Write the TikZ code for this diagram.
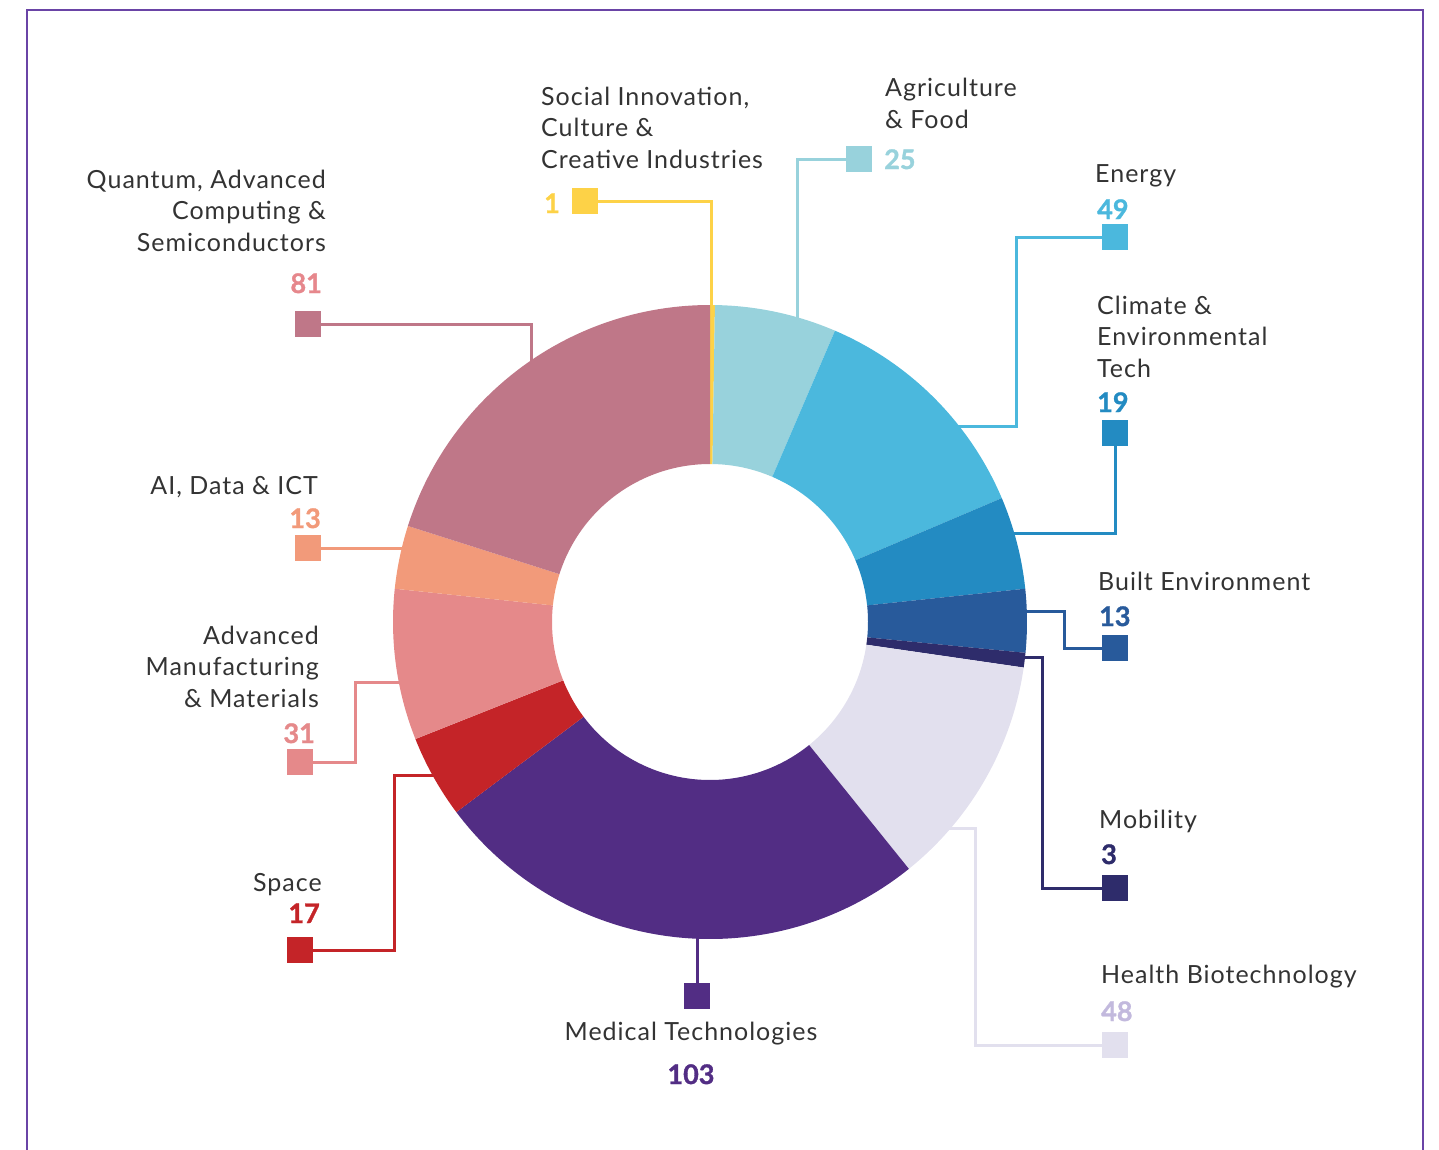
\documentclass[tikz,border=0pt]{standalone}
\usepackage{fontspec}
\setmainfont{Lato}
\newfontfamily\labelfont{Lato}[LetterSpace=4]
\newfontfamily\numfont{Lato}[BoldFeatures={FakeBold=1.2}]
\definecolor{socyellow}{HTML}{FDD247}
\definecolor{agrteal}{HTML}{98D2DC}
\definecolor{eneblue}{HTML}{4BB8DD}
\definecolor{cliblue}{HTML}{238BC2}
\definecolor{bltblue}{HTML}{285A9B}
\definecolor{mobnavy}{HTML}{2E2C6B}
\definecolor{hltlav}{HTML}{E2E0EE}
\definecolor{hltnum}{HTML}{C2B9DD}
\definecolor{medpurple}{HTML}{522D84}
\definecolor{spcred}{HTML}{C42428}
\definecolor{advpink}{HTML}{E5898A}
\definecolor{aisalmon}{HTML}{F29A7A}
\definecolor{qntmauve}{HTML}{BF7788}
\definecolor{qntnum}{HTML}{E6878C}
\definecolor{framepurple}{HTML}{6A44A6}
\definecolor{labelgrey}{HTML}{333333}

\begin{document}
\begin{tikzpicture}[x=1pt,y=1pt,catbox/.style={fill=#1, minimum size=26pt, inner sep=0pt},catlink/.style={draw=#1, line width=3pt},catname/.style={text=labelgrey, inner sep=0pt, font=\labelfont\fontsize{25}{31.5}\selectfont},catnum/.style={text=#1, inner sep=0pt, font=\numfont\fontsize{27}{30}\selectfont\bfseries}]
\useasboundingbox (0,0) rectangle (1439,-1149);
\draw[framepurple, line width=2.5pt] (27,-1160) -- (27,-10) -- (1423,-10) -- (1423,-1160);
\coordinate (ctr) at (710,-622);
% boxes
\node[catbox=socyellow] (socbox) at (585,-201) {};
\node[catbox=agrteal] (agrbox) at (859,-159) {};
\node[catbox=eneblue] (enebox) at (1115,-237) {};
\node[catbox=cliblue] (clibox) at (1115,-433) {};
\node[catbox=bltblue] (bltbox) at (1115,-648) {};
\node[catbox=mobnavy] (mobbox) at (1115,-888) {};
\node[catbox=hltlav] (hltbox) at (1115,-1045) {};
\node[catbox=medpurple] (medbox) at (697,-996) {};
\node[catbox=spcred] (spcbox) at (300,-950) {};
\node[catbox=advpink] (advbox) at (300,-762) {};
\node[catbox=aisalmon] (aibox) at (308,-548) {};
\node[catbox=qntmauve] (qntbox) at (308,-324) {};
% connector ends and corners
\coordinate (socend) at (711,-310);
\coordinate (agrend) at (797,-322);
\coordinate (enecorner) at (1016,-426);
\coordinate (eneend) at (955,-426);
\coordinate (cliend) at (1010,-533);
\coordinate (bltcorner) at (1064,-611);
\coordinate (bltend) at (1022,-611);
\coordinate (mobcorner) at (1042,-657);
\coordinate (mobend) at (1020,-657);
\coordinate (hltcorner) at (975,-828);
\coordinate (hltend) at (944,-828);
\coordinate (medend) at (697,-934);
\coordinate (spccorner) at (394,-775);
\coordinate (spcend) at (444,-775);
\coordinate (advcorner) at (355,-682);
\coordinate (advend) at (404,-682);
\coordinate (aiend) at (407,-548);
\coordinate (qntend) at (531,-366);
\draw[catlink=socyellow] (socbox) -| (socend);
\draw[catlink=agrteal] (agrbox) -| (agrend);
\draw[catlink=eneblue] (enebox) -| (enecorner) -- (eneend);
\draw[catlink=cliblue] (clibox) |- (cliend);
\draw[catlink=bltblue] (bltbox) -| (bltcorner) -- (bltend);
\draw[catlink=mobnavy] (mobbox) -| (mobcorner) -- (mobend);
\draw[catlink=hltlav] (hltbox) -| (hltcorner) -- (hltend);
\draw[catlink=medpurple] (medbox) -- (medend);
\draw[catlink=spcred] (spcbox) -| (spccorner) -- (spcend);
\draw[catlink=advpink] (advbox) -| (advcorner) -- (advend);
\draw[catlink=aisalmon] (aibox) -- (aiend);
\draw[catlink=qntmauve] (qntbox) -| (qntend);
% donut
\foreach \s/\e/\c in {0/1/socyellow, 1/26/agrteal, 26/75/eneblue, 75/94/cliblue, 94/107/bltblue, 107/110/mobnavy, 110/158/hltlav, 158/261/medpurple, 261/278/spcred, 278/309/advpink, 309/322/aisalmon, 322/403/qntmauve}
  \fill[\c] ([shift={({90-\s/403*360}:317)}]ctr) arc[start angle={90-\s/403*360}, end angle={90-\e/403*360}, radius=317] -- ([shift={({90-\e/403*360}:158)}]ctr) arc[start angle={90-\e/403*360}, end angle={90-\s/403*360}, radius=158] -- cycle;
% labels (base = last line)
\node[catname, anchor=base west, align=left] (soclabel) at (541,-168) {Social Innovation,\\Culture \&\\Creative Industries};
\node[catname, anchor=base west, align=left] (agrlabel) at (885,-128) {Agriculture\\\& Food};
\node[catname, anchor=base west] (enelabel) at (1095,-182) {Energy};
\node[catname, anchor=base west, align=left] (clilabel) at (1097,-377) {Climate \&\\Environmental\\Tech};
\node[catname, anchor=base west] (bltlabel) at (1098,-590) {Built Environment};
\node[catname, anchor=base west] (moblabel) at (1099,-828) {Mobility};
\node[catname, anchor=base west] (hltlabel) at (1101,-983) {Health Biotechnology};
\node[catname, anchor=base] (medlabel) at (691,-1040) {Medical Technologies};
\node[catname, anchor=base east] (spclabel) at (322,-891) {Space};
\node[catname, anchor=base east, align=right] (advlabel) at (319,-707) {Advanced\\Manufacturing\\\& Materials};
\node[catname, anchor=base east] (ailabel) at (318,-494) {AI, Data \& ICT};
\node[catname, anchor=base east, align=right] (qntlabel) at (326,-251) {Quantum, Advanced\\Computing \&\\Semiconductors};
% numbers
\node[catnum=socyellow, anchor=base west] (socnum) at (544,-213) {1};
\node[catnum=agrteal, anchor=base west] (agrnum) at (884,-169) {25};
\node[catnum=eneblue, anchor=base west] (enenum) at (1097,-219) {49};
\node[catnum=cliblue, anchor=base west] (clinum) at (1097,-412) {19};
\node[catnum=bltblue, anchor=base west] (bltnum) at (1099,-626) {13};
\node[catnum=mobnavy, anchor=base west] (mobnum) at (1101,-864) {3};
\node[catnum=hltnum, anchor=base west] (hltnum) at (1101,-1021) {48};
\node[catnum=medpurple, anchor=base] (mednum) at (691,-1084) {103};
\node[catnum=spcred, anchor=base east] (spcnum) at (320,-923) {17};
\node[catnum=advpink, anchor=base east] (advnum) at (315,-743) {31};
\node[catnum=aisalmon, anchor=base east] (ainum) at (321,-528) {13};
\node[catnum=qntnum, anchor=base east] (qntnum) at (322,-293) {81};
\end{tikzpicture}
\end{document}
